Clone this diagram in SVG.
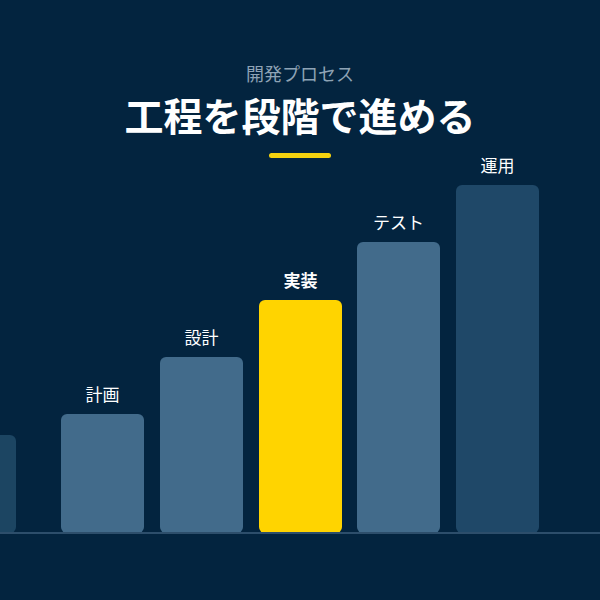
<svg xmlns="http://www.w3.org/2000/svg" width="600" height="600" viewBox="0 0 600 600">
<style>
.lbl{font-family:"Noto Sans CJK JP","Noto Sans",sans-serif;font-size:17px;fill:#ffffff;text-anchor:middle}
.bar{fill:#426b8b}
</style>
<rect width="600" height="600" fill="#03243f"/>
<text x="300" y="81" font-family="Noto Sans CJK JP, sans-serif" font-size="18" fill="#8ea3b5" text-anchor="middle">開発プロセス</text>
<text x="300" y="131" font-family="Noto Sans CJK JP, sans-serif" font-size="39" font-weight="bold" fill="#ffffff" text-anchor="middle">工程を段階で進める</text>
<rect x="269" y="153" width="62" height="5" rx="2.5" fill="#f5d20f"/>
<g id="bar0"><rect x="-70" y="435" width="86" height="98" rx="6" fill="#1c4562"/></g>
<g id="plan"><rect class="bar" x="61" y="414" width="83" height="119" rx="6"/><text class="lbl" x="102.5" y="401">計画</text></g>
<g id="design"><rect class="bar" x="160" y="357" width="83" height="176" rx="6"/><text class="lbl" x="201.5" y="344">設計</text></g>
<g id="impl"><rect x="259" y="300" width="83" height="233" rx="6" fill="#ffd400"/><text class="lbl" x="300.5" y="287" font-weight="bold">実装</text></g>
<g id="test"><rect class="bar" x="357" y="242" width="83" height="291" rx="6"/><text class="lbl" x="398.5" y="229">テスト</text></g>
<g id="ops"><rect x="456" y="185" width="83" height="348" rx="6" fill="#1f4868"/><text class="lbl" x="497.5" y="172">運用</text></g>
<g id="connectors"><line x1="0" y1="533" x2="600" y2="533" stroke="#2d4e6b" stroke-width="2"/></g>
</svg>
